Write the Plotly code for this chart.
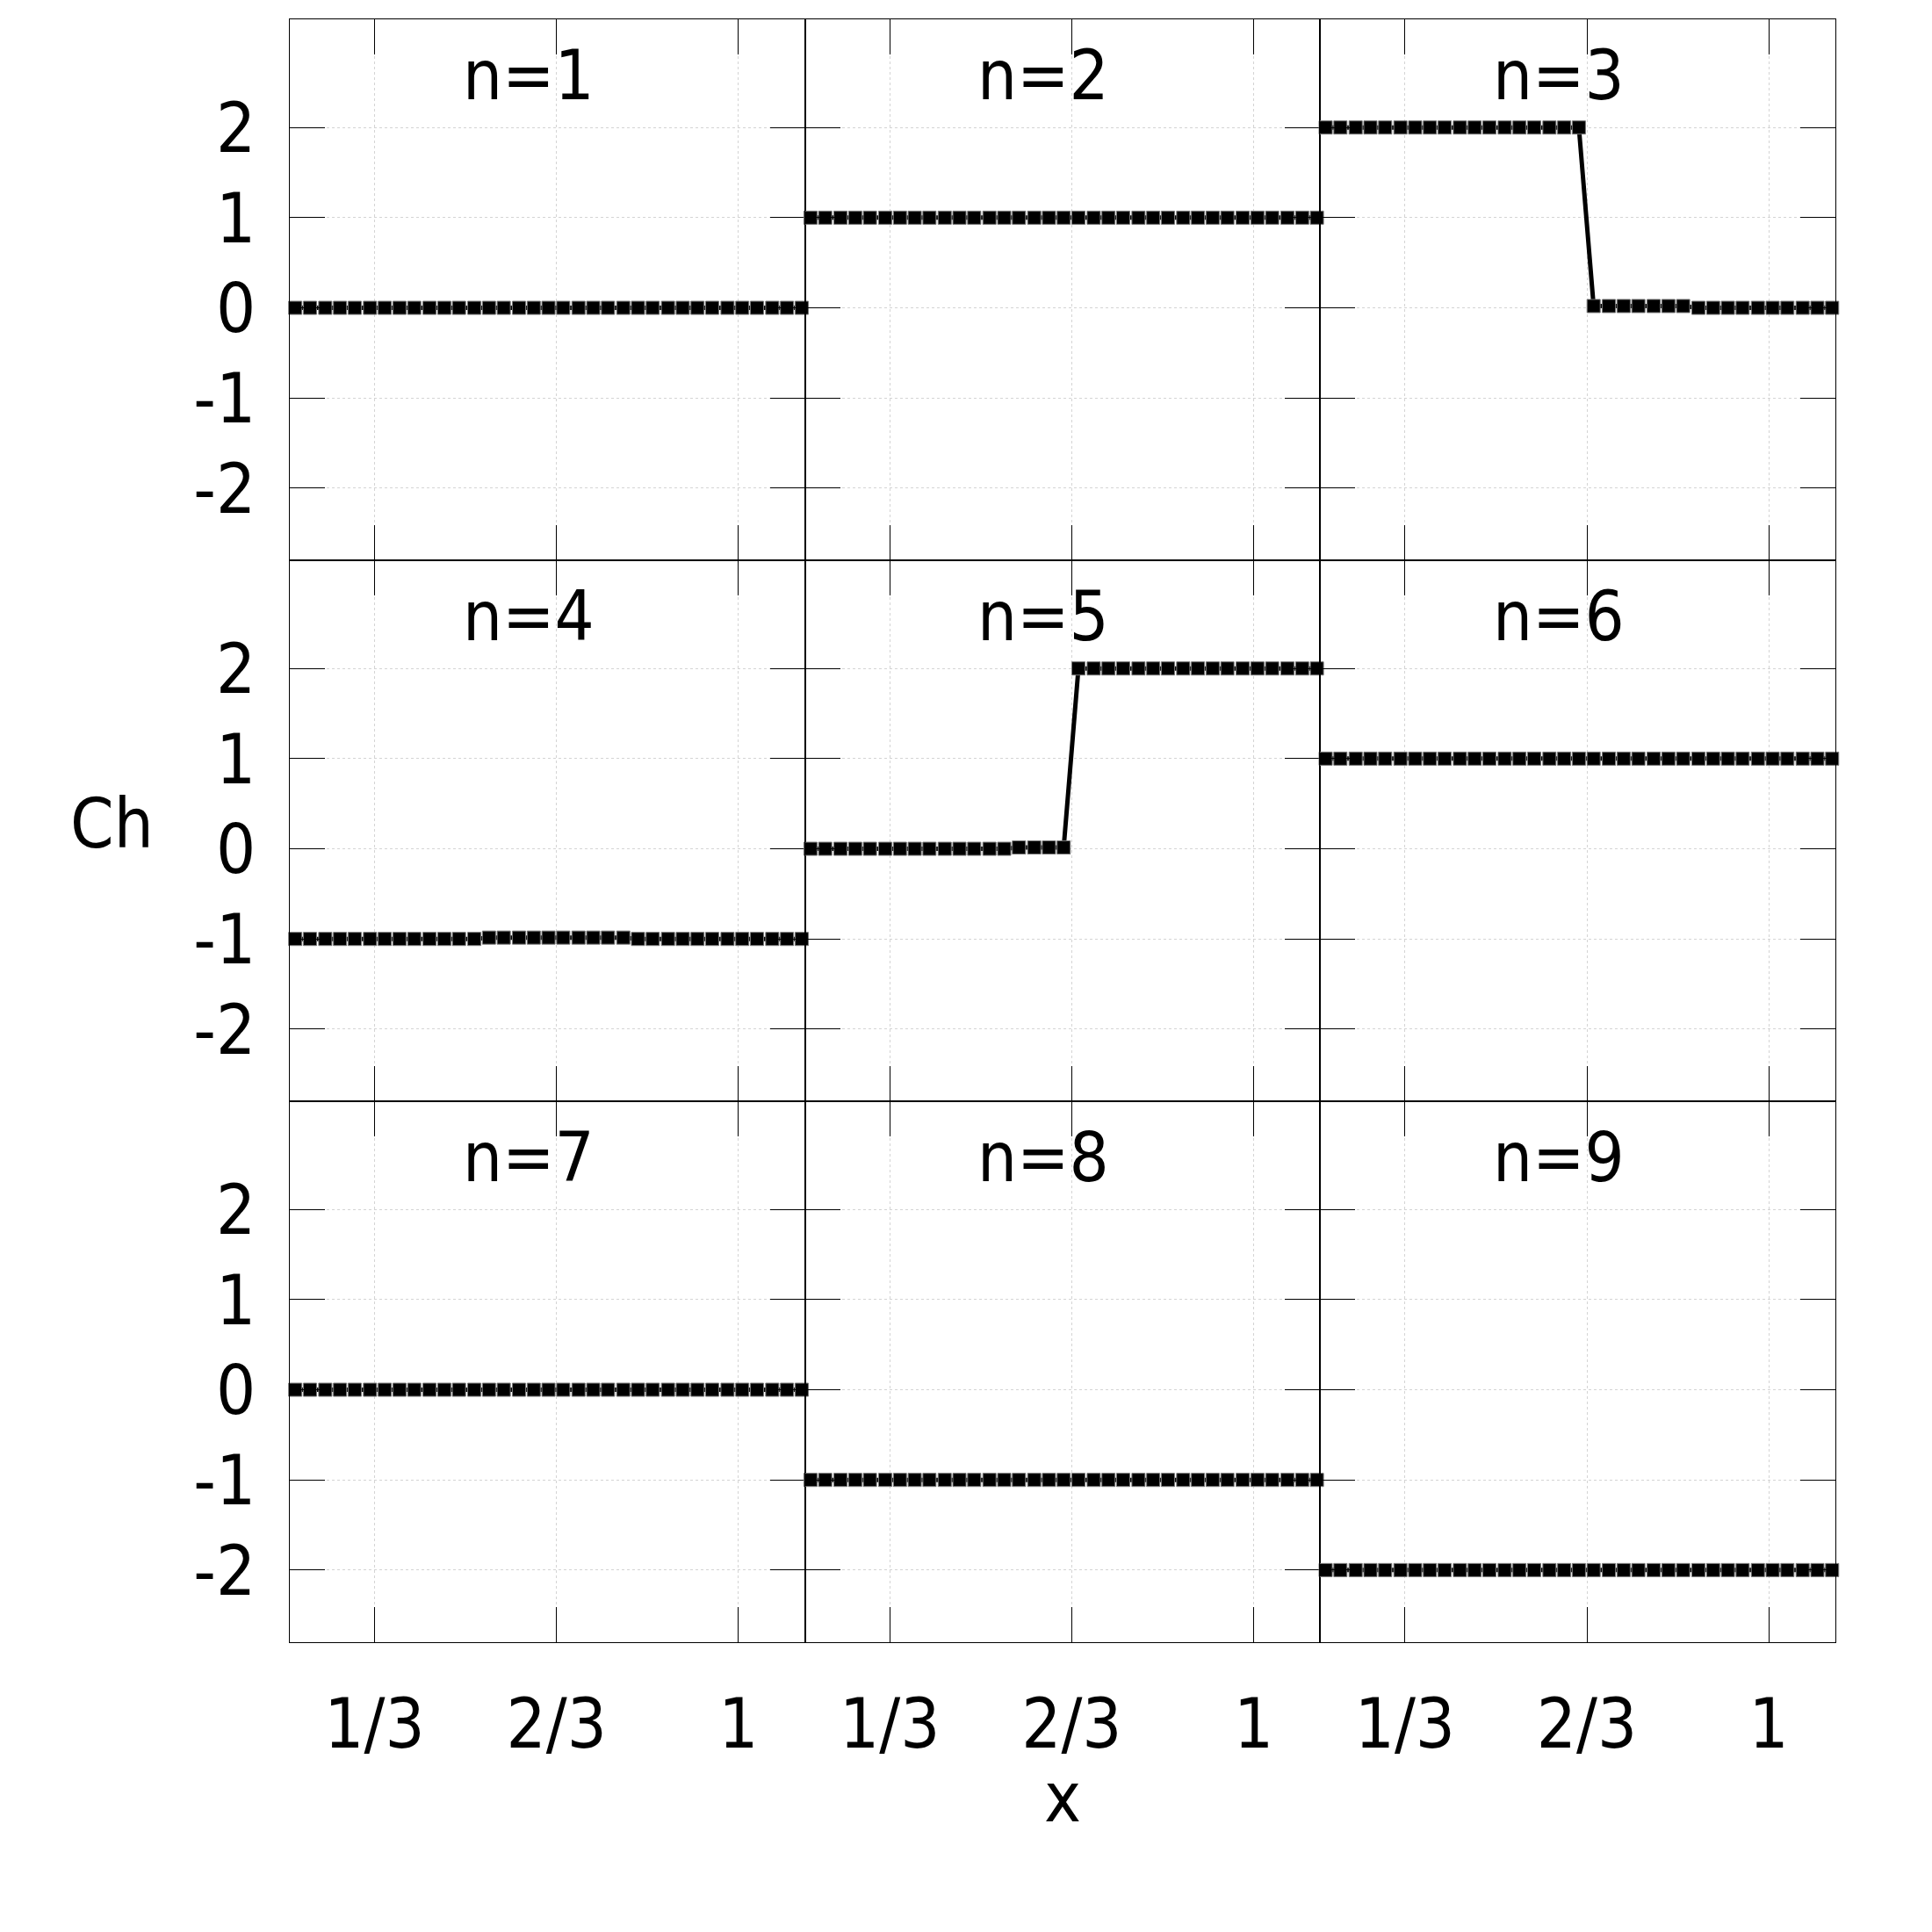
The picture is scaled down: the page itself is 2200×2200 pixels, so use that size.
import plotly.graph_objects as go
from plotly.subplots import make_subplots

# Sample positions (same for every panel)
x_vals = [0.188, 0.215, 0.243, 0.270, 0.297, 0.325, 0.352, 0.379, 0.406, 0.434,
          0.461, 0.488, 0.516, 0.543, 0.570, 0.598, 0.625, 0.652, 0.679, 0.707,
          0.734, 0.761, 0.789, 0.816, 0.843, 0.871, 0.898, 0.925, 0.952, 0.980,
          1.007, 1.034, 1.062, 1.089, 1.116]

ch_n1 = [0, 0, 0, 0, 0, 0, 0, 0, 0, 0, 0, 0, 0, 0, 0, 0, 0, 0, 0, 0,
         0, 0, 0, 0, 0, 0, 0, 0, 0, 0, 0, 0, 0, 0, 0]
ch_n2 = [1, 1, 1, 1, 1, 1, 1, 1, 1, 1, 1, 1, 1, 1, 1, 1, 1, 1, 1, 1,
         1, 1, 1, 1, 1, 1, 1, 1, 1, 1, 1, 1, 1, 1, 1]
ch_n3 = [2, 2, 2, 2, 2, 2, 2, 2, 2, 2, 2, 2, 2, 2, 2, 2, 2, 2,
         0.02, 0.02, 0.02, 0.02, 0.02, 0.02, 0.02,
         0, 0, 0, 0, 0, 0, 0, 0, 0, 0]
ch_n4 = [-1, -1, -1, -1, -1, -1, -1, -1, -1, -1, -1, -1, -1,
         -0.985, -0.985, -0.985, -0.985, -0.985, -0.985, -0.985, -0.985, -0.985, -0.985,
         -1, -1, -1, -1, -1, -1, -1, -1, -1, -1, -1, -1]
ch_n5 = [0, 0, 0, 0, 0, 0, 0, 0, 0, 0, 0, 0, 0, 0,
         0.015, 0.015, 0.015, 0.015,
         2, 2, 2, 2, 2, 2, 2, 2, 2, 2, 2, 2, 2, 2, 2, 2, 2]
ch_n6 = [1, 1, 1, 1, 1, 1, 1, 1, 1, 1, 1, 1, 1, 1, 1, 1, 1, 1, 1, 1,
         1, 1, 1, 1, 1, 1, 1, 1, 1, 1, 1, 1, 1, 1, 1]
ch_n7 = [0, 0, 0, 0, 0, 0, 0, 0, 0, 0, 0, 0, 0, 0, 0, 0, 0, 0, 0, 0,
         0, 0, 0, 0, 0, 0, 0, 0, 0, 0, 0, 0, 0, 0, 0]
ch_n8 = [-1, -1, -1, -1, -1, -1, -1, -1, -1, -1, -1, -1, -1, -1, -1, -1, -1, -1,
         -1, -1, -1, -1, -1, -1, -1, -1, -1, -1, -1, -1, -1, -1, -1, -1, -1]
ch_n9 = [-2, -2, -2, -2, -2, -2, -2, -2, -2, -2, -2, -2, -2, -2, -2, -2, -2, -2,
         -2, -2, -2, -2, -2, -2, -2, -2, -2, -2, -2, -2, -2, -2, -2, -2, -2]

panel_titles = ["n=1", "n=2", "n=3", "n=4", "n=5", "n=6", "n=7", "n=8", "n=9"]
series = [ch_n1, ch_n2, ch_n3, ch_n4, ch_n5, ch_n6, ch_n7, ch_n8, ch_n9]

x_tickvals = [1/3, 2/3, 1]
x_ticktext = ["1/3", "2/3", "1"]
y_tickvals = [-2, -1, 0, 1, 2]
y_ticktext = ["-2", "-1", "0", "1", "2"]

FONT = "DejaVu Sans Condensed, DejaVu Sans"
FS = 79

fig = make_subplots(rows=3, cols=3, horizontal_spacing=0, vertical_spacing=0)

for i, (title, ys) in enumerate(zip(panel_titles, series)):
    r, c = i // 3 + 1, i % 3 + 1
    fig.add_trace(go.Scatter(
        x=x_vals, y=ys, mode="lines+markers",
        line=dict(color="black", width=5),
        marker=dict(symbol="square", size=15, color="black",
                    line=dict(color="#777777", width=1)),
        cliponaxis=False, showlegend=False), row=r, col=c)
    fig.add_annotation(text=title, x=0.615, y=2.58, showarrow=False,
                       font=dict(family=FONT, size=FS, color="black"),
                       row=r, col=c)
    fig.update_xaxes(range=[0.178, 1.122], tickvals=x_tickvals, ticktext=x_ticktext,
                     showticklabels=(r == 3), row=r, col=c)
    fig.update_yaxes(range=[-2.8, 3.2], tickvals=y_tickvals, ticktext=y_ticktext,
                     showticklabels=(c == 1), row=r, col=c)

fig.update_xaxes(showline=True, linecolor="black", linewidth=1, mirror="ticks",
                 ticks="inside", ticklen=40, tickwidth=1.2, tickcolor="black",
                 showgrid=True, gridcolor="#d4d4d4", griddash="dot", gridwidth=1,
                 zeroline=False, ticklabelstandoff=24,
                 tickfont=dict(family=FONT, size=FS, color="black"))
fig.update_yaxes(showline=True, linecolor="black", linewidth=1, mirror="ticks",
                 ticks="inside", ticklen=40, tickwidth=1.2, tickcolor="black",
                 showgrid=True, gridcolor="#d4d4d4", griddash="dot", gridwidth=1,
                 zeroline=False, ticklabelstandoff=22,
                 tickfont=dict(family=FONT, size=FS, color="black"))

fig.add_annotation(text="Ch", xref="paper", yref="paper", x=-0.1153, y=0.5043,
                   xanchor="center", yanchor="middle",
                   showarrow=False, font=dict(family=FONT, size=FS, color="black"))
fig.add_annotation(text="x", xref="paper", yref="paper", x=0.5, y=-0.0958,
                   xanchor="center", yanchor="middle",
                   showarrow=False, font=dict(family=FONT, size=FS, color="black"))

fig.update_layout(width=2200, height=2200,
                  margin=dict(l=322, r=118, t=14, b=338),
                  plot_bgcolor="white", paper_bgcolor="white",
                  font=dict(family=FONT, size=FS, color="black"))

fig.write_html("out.html")
